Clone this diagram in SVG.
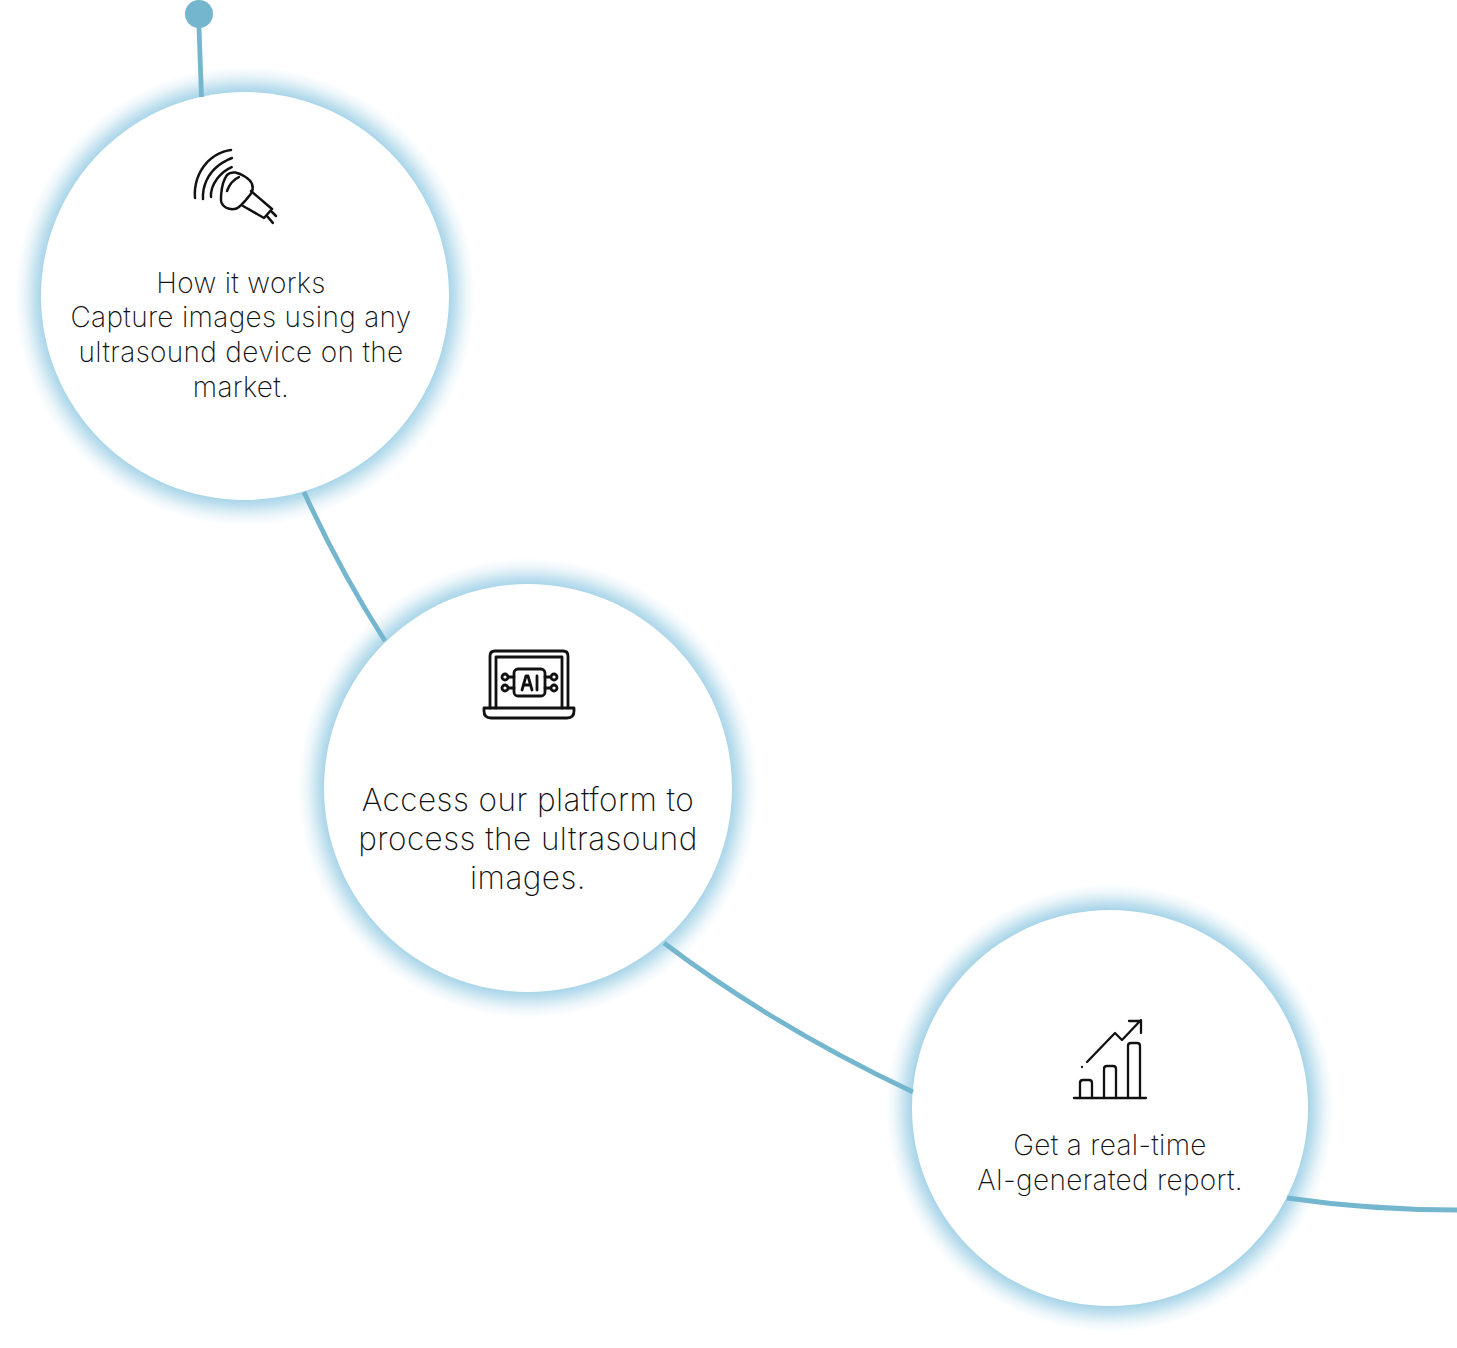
<svg xmlns="http://www.w3.org/2000/svg" width="1457" height="1348" viewBox="0 0 1457 1348">
<style>
.bg{fill:#fff}
.halo{fill:url(#g)}
.line{fill:none;stroke:#75b6cf;stroke-width:4.800}
.t{font-family:"Inter","Liberation Sans",sans-serif;font-weight:250;fill:#111;text-anchor:middle}
.a{font-size:28px;letter-spacing:.32px}
.b{font-size:31.500px;letter-spacing:.45px}
.i{fill:none;stroke:#111;stroke-linecap:round;stroke-linejoin:round}
</style>
<defs>
<radialGradient id="g">
<stop offset="0.885" stop-color="#a8d5e8"/>
<stop offset="0.913" stop-color="#c0e0ef"/>
<stop offset="0.939" stop-color="#d9edf5"/>
<stop offset="0.965" stop-color="#eff7fb"/>
<stop offset="1" stop-color="#fff"/>
</radialGradient>
</defs>
<rect width="1457" height="1348" fill="#fff"/>
<g id="node-1">
<circle class="halo" cx="245" cy="296" r="230"/>
<circle class="bg" cx="245" cy="296" r="204"/>
<g class="i" stroke-width="2.500" stroke-dasharray="9 0.8">
<path d="M195 198C193 175 208 153 231 150M203 199C202 181 213 165 232 158M211 197C210 187 218 173 232 167"/>
<path d="M227 175C232 170 240 173 247 178C254 183 254 190 250 195C245 201 239 209 234 209C227 210 221 205 221 200C221 192 222 182 227 175Z"/>
<path d="M227 191C229 186 232 180 239 177"/>
<path d="M251 191L272 209L264 218L243 206"/>
<path d="M267 216L273 223M272 212L276 216"/>
</g>
<text class="t a" x="241" y="293">How it works</text>
<text class="t a" x="241" y="327">Capture images using any</text>
<text class="t a" x="241" y="362">ultrasound device on the</text>
<text class="t a" x="241" y="397">market.</text>
</g>
<g id="node-2">
<circle class="halo" cx="528" cy="788" r="230"/>
<circle class="bg" cx="528" cy="788" r="204"/>
<g class="i" stroke-width="2.800">
<path d="M490 708V656Q490 651 495 651H563Q568 651 568 656V708"/>
<path d="M496 708V657H562V708"/>
<path d="M484 708H574V711Q574 718 567 718H491Q484 718 484 711Z"/>
<rect x="514" y="669" width="31" height="27" rx="4"/>
<path d="M514 677H509M514 688H509M545 677H550M545 688H550"/>
<circle cx="505" cy="677" r="3"/><circle cx="505" cy="688" r="3"/>
<circle cx="554" cy="677" r="3"/><circle cx="554" cy="688" r="3"/>
<path d="M522 690L526 676H528L532 690M523.500 685H530.500M537 676V690"/>
</g>
<text class="t b" x="528" y="811">Access our platform to</text>
<text class="t b" x="528" y="850">process the ultrasound</text>
<text class="t b" x="528" y="889">images.</text>
</g>
<g id="node-3">
<circle class="halo" cx="1110" cy="1108" r="224"/>
<circle class="bg" cx="1110" cy="1108" r="198"/>
<g class="i" stroke-width="2.300">
<path d="M1074 1098H1146"/>
<path d="M1080 1098V1083Q1080 1080 1083 1080H1089Q1092 1080 1092 1083V1098"/>
<path d="M1104 1098V1069Q1104 1066 1107 1066H1113Q1116 1066 1116 1069V1098"/>
<path d="M1128 1098V1046Q1128 1043 1131 1043H1137Q1140 1043 1140 1046V1098"/>
<path d="M1087 1062L1115 1033L1122 1040L1141 1020M1129 1021H1141V1033"/>
<path d="M1082 1067L1082 1067"/>
</g>
<text class="t a" x="1110" y="1155">Get a real-time</text>
<text class="t a" x="1110" y="1190">AI-generated report.</text>
</g>
<g id="connectors">
<path class="line" d="M198.500 14L201.500 97"/>
<path class="line" d="M304 492Q339 569 385 641"/>
<path class="line" d="M664 943Q775 1027 913 1092"/>
<path class="line" d="M1287 1198Q1370 1210 1457 1210"/>
<circle cx="199" cy="14" r="14" fill="#75b6cf"/>
</g>
</svg>
